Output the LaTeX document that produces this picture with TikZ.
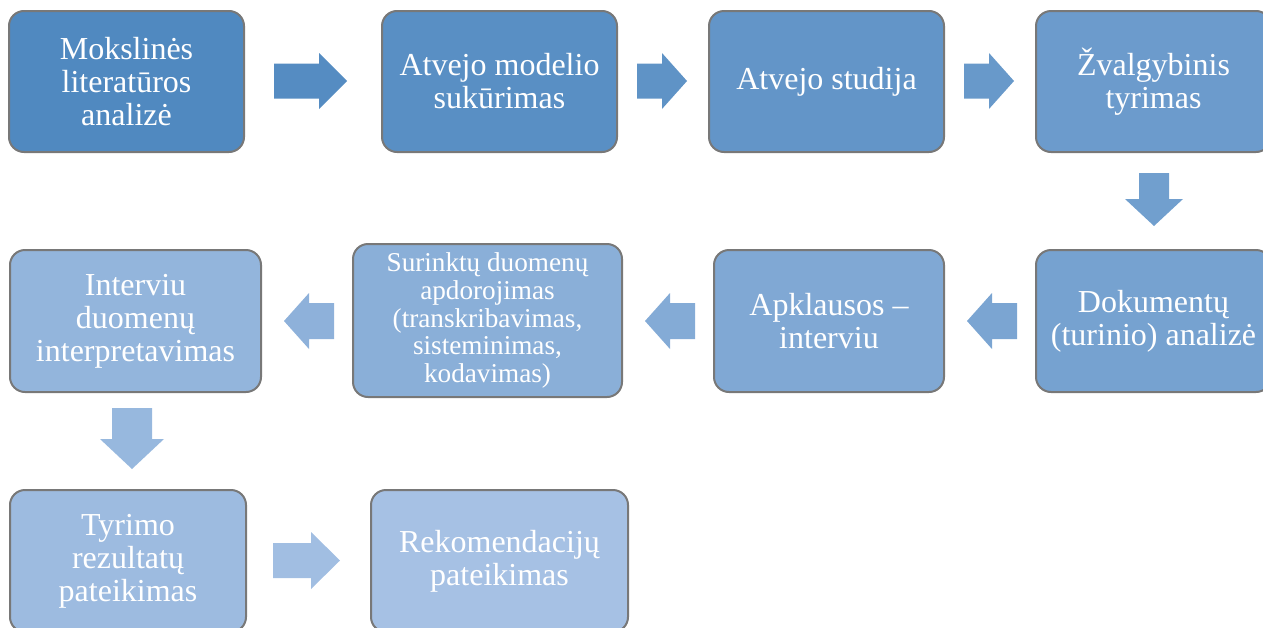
\documentclass[tikz,border=0pt]{standalone}
\usepackage{fontspec}
\setmainfont{Liberation Serif}
\definecolor{cStart}{RGB}{80,137,192}
\definecolor{cEnd}{RGB}{166,193,228}
\definecolor{edgegray}{RGB}{120,120,120}
% colour steps along the process: boxes on even, arrows on odd steps
\colorlet{s0}{cEnd!0!cStart}
\colorlet{s1}{cEnd!6!cStart}
\colorlet{s2}{cEnd!11!cStart}
\colorlet{s3}{cEnd!17!cStart}
\colorlet{s4}{cEnd!22!cStart}
\colorlet{s5}{cEnd!28!cStart}
\colorlet{s6}{cEnd!33!cStart}
\colorlet{s7}{cEnd!39!cStart}
\colorlet{s8}{cEnd!44!cStart}
\colorlet{s9}{cEnd!50!cStart}
\colorlet{s10}{cEnd!56!cStart}
\colorlet{s11}{cEnd!61!cStart}
\colorlet{s12}{cEnd!67!cStart}
\colorlet{s13}{cEnd!72!cStart}
\colorlet{s14}{cEnd!78!cStart}
\colorlet{s15}{cEnd!83!cStart}
\colorlet{s16}{cEnd!89!cStart}
\colorlet{s17}{cEnd!94!cStart}
\colorlet{s18}{cEnd!100!cStart}
% horizontal block arrow: name, shaft end, head base, tip, centre y, shaft half, head half, colour
\newcommand\harrow[8]{%
  \fill[#8] (#2,#5-#6) -- (#3,#5-#6) -- (#3,#5-#7) -- (#4,#5)
    -- (#3,#5+#7) -- (#3,#5+#6) -- (#2,#5+#6) -- cycle;
  \coordinate (#1) at (#4,#5);}
% vertical block arrow: name, centre x, shaft end, head base, tip, shaft half, head half, colour
\newcommand\varrow[8]{%
  \fill[#8] (#2-#6,#3) -- (#2-#6,#4) -- (#2-#7,#4) -- (#2,#5)
    -- (#2+#7,#4) -- (#2+#6,#4) -- (#2+#6,#3) -- cycle;
  \coordinate (#1) at (#2,#5);}
\begin{document}
\begin{tikzpicture}[x=0.5pt,y=-0.5pt,
  stepbox/.style={draw=edgegray, line width=1pt, rounded corners=7.5pt,
    text=white, align=center, inner sep=2pt,
    font=\fontsize{16}{16.5}\selectfont},
  smalltext/.style={font=\fontsize{13.6}{13.8}\selectfont}]
\clip (0,0) rectangle (1263,627);
% first row
\node[stepbox, fill=s0, minimum width=117.5pt, minimum height=70.5pt] (b1) at (126.5,81.5)
  {Mokslinės\\literatūros\\analizė};
\node[stepbox, fill=s2, minimum width=117.5pt, minimum height=70.5pt] (b2) at (499.5,81.5)
  {Atvejo modelio\\sukūrimas};
\node[stepbox, fill=s4, minimum width=117.5pt, minimum height=70.5pt] (b3) at (826.5,81.5)
  {Atvejo studija};
\node[stepbox, fill=s6, minimum width=117.5pt, minimum height=70.5pt] (b4) at (1153.5,81.5)
  {Žvalgybinis\\tyrimas};
% second row
\node[stepbox, fill=s8, minimum width=117.5pt, minimum height=71pt] (b5) at (1153.5,321)
  {Dokumentų\\(turinio) analizė};
\node[stepbox, fill=s10, minimum width=115pt, minimum height=71pt] (b6) at (829,321)
  {Apklausos –\\interviu};
\node[stepbox, smalltext, fill=s12, minimum width=134.5pt, minimum height=76.5pt] (b7) at (487.5,320.5)
  {Surinktų duomenų\\apdorojimas\\(transkribavimas,\\sisteminimas,\\kodavimas)};
\node[stepbox, fill=s14, minimum width=125.5pt, minimum height=71pt] (b8) at (135.5,321)
  {Interviu\\duomenų\\interpretavimas};
% third row
\node[stepbox, fill=s16, minimum width=118pt, minimum height=71pt] (b9) at (128,561)
  {Tyrimo\\rezultatų\\pateikimas};
\node[stepbox, fill=s18, minimum width=128.5pt, minimum height=71pt] (b10) at (499.5,561)
  {Rekomendacijų\\pateikimas};
% block arrows between the steps
\harrow{a1}{274}{319}{347}{81}{17.5}{28}{s1}
\harrow{a2}{637}{662}{687}{81}{17.5}{28}{s3}
\harrow{a3}{964}{989}{1014}{81}{17.5}{28}{s5}
\varrow{a4}{1154}{173}{199}{226}{15}{29}{s7}
\harrow{a5}{1017}{992}{967}{321}{18}{28}{s9}
\harrow{a6}{695}{670}{645}{321}{18}{28}{s11}
\harrow{a7}{334}{309}{284}{321}{18}{28}{s13}
\varrow{a8}{132}{408}{439}{469}{20}{32}{s15}
\harrow{a9}{273}{311}{340}{560.5}{17.5}{28.5}{s17}
\end{tikzpicture}
\end{document}
